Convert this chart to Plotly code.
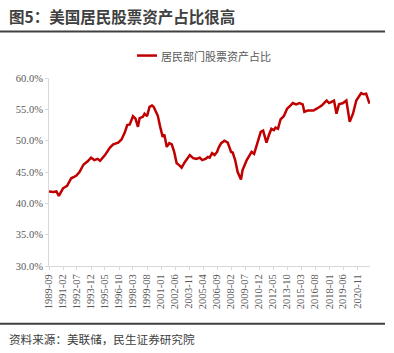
import plotly.graph_objects as go

dates = [
    "1989-09", "1990-02", "1990-06", "1990-09", "1991-02", "1991-07", "1991-12",
    "1992-06", "1992-10", "1993-03", "1993-08", "1993-12", "1994-04", "1994-08",
    "1994-11", "1995-05", "1995-11", "1996-03", "1996-09", "1997-01", "1997-05",
    "1997-08", "1997-11", "1998-03", "1998-06", "1998-09", "1998-11", "1999-03",
    "1999-05", "1999-08", "1999-11", "2000-02", "2000-04", "2000-07", "2000-09",
    "2000-12", "2001-03", "2001-05", "2001-08", "2001-11", "2002-02", "2002-05",
    "2002-08", "2002-11", "2003-02", "2003-06", "2003-12", "2004-04", "2004-08",
    "2004-12", "2005-03", "2005-07", "2005-10", "2005-12", "2006-03", "2006-06",
    "2006-09", "2006-11", "2007-02", "2007-06", "2007-10", "2008-02", "2008-04",
    "2008-07", "2008-10", "2009-02", "2009-04", "2009-09", "2010-01", "2010-03",
    "2010-06", "2010-10", "2011-02", "2011-05", "2011-09", "2011-12", "2012-03",
    "2012-06", "2012-08", "2012-11", "2013-02", "2013-06", "2013-10", "2014-02",
    "2014-05", "2014-09", "2015-01", "2015-05", "2015-07", "2015-11", "2016-06",
    "2016-10", "2017-04", "2017-10", "2018-01", "2018-04", "2018-07", "2018-10",
    "2019-01", "2019-06", "2019-10", "2020-02", "2020-06", "2020-10", "2021-02",
    "2021-04", "2021-07", "2021-10", "2022-02",
]
share = [
    41.9, 41.8, 41.9, 41.2, 42.4, 42.8, 44.0,
    44.4, 45.0, 46.2, 46.7, 47.3, 46.9, 47.1,
    46.8, 47.7, 48.9, 49.4, 49.7, 50.2, 51.3,
    52.5, 52.6, 53.9, 53.5, 52.2, 53.6, 53.8,
    54.3, 53.9, 55.4, 55.6, 55.4, 54.7, 54.0,
    52.2, 50.6, 51.0, 49.0, 49.6, 49.4, 48.2,
    46.4, 46.1, 45.7, 46.6, 47.7, 47.2, 47.1,
    47.3, 46.9, 47.1, 47.4, 47.3, 48.0, 47.7,
    48.2, 48.9, 49.6, 50.0, 49.7, 48.2, 48.1,
    46.9, 45.0, 43.8, 45.3, 46.9, 47.7, 48.2,
    47.9, 49.8, 51.4, 51.6, 49.7, 50.9, 51.9,
    51.7, 52.1, 51.9, 53.4, 53.9, 55.1, 55.6,
    56.0, 55.8, 56.0, 55.8, 54.6, 54.8, 54.8,
    55.1, 55.6, 56.4, 56.0, 56.2, 56.4, 54.3,
    55.8, 56.0, 56.4, 53.0, 54.3, 56.4, 57.2,
    57.6, 57.4, 57.5, 55.9,
]
tick_labels = [
    "1989-09", "1991-02", "1992-07", "1993-12", "1995-05", "1996-10", "1998-03",
    "1999-08", "2001-01", "2002-06", "2003-11", "2005-04", "2006-09", "2008-02",
    "2009-07", "2010-12", "2012-05", "2013-10", "2015-03", "2016-08", "2018-01",
    "2019-06", "2020-11",
]
y_ticks = [30, 35, 40, 45, 50, 55, 60]

series_name = "居民部门股票资产占比"
title_text = "图5：美国居民股票资产占比很高"
source_text = "资料来源：美联储，民生证券研究院"

W, H = 394, 353
L, R, T, B = 49, 24, 77.5, 87
pw = W - L - R
ph = H - T - B

def px_x(p):
    return (p - L) / pw

def px_y(p):
    return (H - B - p) / ph

red = "#C00000"
serif = "Liberation Serif, Times New Roman, serif"
cjk = "Noto Sans CJK SC, sans-serif"

fig = go.Figure()
fig.add_trace(go.Scatter(
    x=[d + "-01" for d in dates], y=share, mode="lines",
    line=dict(color=red, width=2.5), name=series_name, showlegend=False,
))

fig.update_layout(
    width=W, height=H,
    margin=dict(l=L, r=R, t=T, b=B),
    paper_bgcolor="white", plot_bgcolor="white",
    xaxis=dict(
        type="date", range=["1989-09-01", "2022-02-20"],
        tickvals=[t + "-01" for t in tick_labels], ticktext=tick_labels,
        tickangle=-90, showgrid=False, zeroline=False,
        showline=True, linecolor="#d9d9d9", linewidth=1,
        ticks="outside", ticklen=3, tickcolor="#d9d9d9",
        tickfont=dict(family=serif, size=10.5, color="#595959"),
    ),
    yaxis=dict(
        range=[30, 60], tickvals=y_ticks,
        ticktext=[f"{v:.1f}%" for v in y_ticks],
        showgrid=False, zeroline=False,
        showline=True, linecolor="#d9d9d9", linewidth=1,
        ticks="outside", ticklen=3, tickcolor="#d9d9d9",
        tickfont=dict(family=serif, size=10.5, color="#595959"),
    ),
    shapes=[
        dict(type="line", xref="paper", yref="paper",
             x0=px_x(0), x1=px_x(385), y0=px_y(31), y1=px_y(31),
             line=dict(color="#404040", width=2)),
        dict(type="line", xref="paper", yref="paper",
             x0=px_x(0), x1=px_x(385), y0=px_y(324), y1=px_y(324),
             line=dict(color="#404040", width=2)),
        dict(type="line", xref="paper", yref="paper",
             x0=px_x(137), x1=px_x(157), y0=px_y(55), y1=px_y(55),
             line=dict(color=red, width=2.5)),
    ],
    annotations=[
        dict(text="<b>" + title_text + "</b>", xref="paper", yref="paper",
             x=px_x(7), y=px_y(15), xanchor="left", yanchor="middle",
             showarrow=False, font=dict(family=cjk, size=15.5, color="#404040")),
        dict(text=source_text, xref="paper", yref="paper",
             x=px_x(7), y=px_y(339), xanchor="left", yanchor="middle",
             showarrow=False, font=dict(family=cjk, size=11.6, color="#404040")),
        dict(text=series_name, xref="paper", yref="paper",
             x=px_x(159), y=px_y(55), xanchor="left", yanchor="middle",
             showarrow=False, font=dict(family=cjk, size=11, color="#595959")),
    ],
)

fig.write_html("out.html")
